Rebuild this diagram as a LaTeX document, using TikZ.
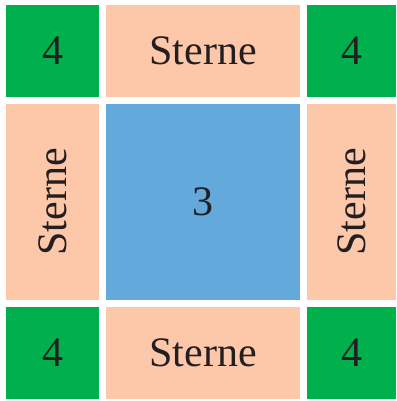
\documentclass[tikz,border=0pt]{standalone}
\usepackage{fontspec}
\setmainfont{Liberation Serif}
\definecolor{cgreen}{HTML}{00B04C}
\definecolor{cpeach}{HTML}{FDC8AA}
\definecolor{cblue}{HTML}{63A9DC}
\definecolor{ctext}{HTML}{231F20}
\begin{document}
\begin{tikzpicture}[x=1pt,y=-1pt,
  cell/.style={draw=none,inner sep=0pt,outer sep=0pt,anchor=north west,text=ctext,font=\fontsize{42}{42}\selectfont},
  corner/.style={cell,fill=cgreen},
  edge/.style={cell,fill=cpeach},
  middle/.style={cell,fill=cblue}]
\useasboundingbox (0,0) rectangle (396,401);
\node[corner,minimum width=93pt,minimum height=92pt] (tl) at (6,5) {4};
\node[edge,minimum width=194pt,minimum height=92pt] (t) at (106,5) {Sterne};
\node[corner,minimum width=89pt,minimum height=92pt] (tr) at (307,5) {4};
\node[edge,minimum width=93pt,minimum height=196pt] (l) at (6,104) {};
\node[middle,minimum width=194pt,minimum height=196pt] (c) at (106,104) {3};
\node[edge,minimum width=89pt,minimum height=196pt] (r) at (307,104) {};
\node[corner,minimum width=93pt,minimum height=92pt] (bl) at (6,307) {4};
\node[edge,minimum width=194pt,minimum height=92pt] (b) at (106,307) {Sterne};
\node[corner,minimum width=89pt,minimum height=92pt] (br) at (307,307) {4};
\node[rotate=90,text=ctext,inner sep=0pt,font=\fontsize{42}{42}\selectfont] (lt) at (l.center) {Sterne};
\node[rotate=90,text=ctext,inner sep=0pt,font=\fontsize{42}{42}\selectfont] (rt) at (r.center) {Sterne};
\end{tikzpicture}
\end{document}
